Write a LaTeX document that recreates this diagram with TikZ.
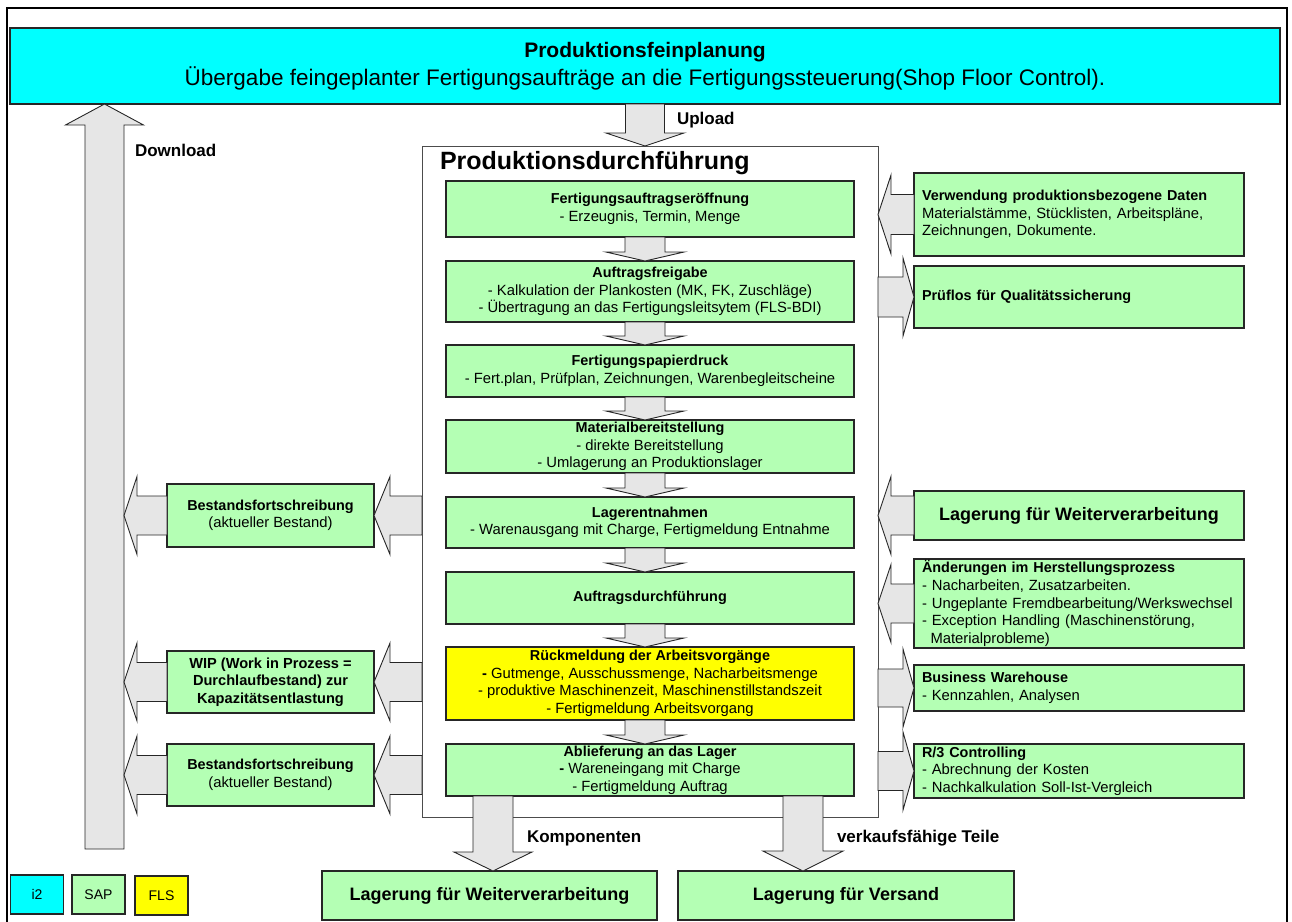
\documentclass[tikz,border=0pt]{standalone}
\usepackage{fontspec}
\setmainfont{Liberation Sans}
\usetikzlibrary{calc}

\definecolor{sapgreen}{RGB}{180,255,180}
\definecolor{arrowgray}{RGB}{230,230,230}
\definecolor{flsyellow}{RGB}{255,255,0}
\definecolor{itwocyan}{RGB}{0,255,255}

\newcommand{\bxfont}{\fontsize{14.8}{17.6}\selectfont}
\newcommand{\hd}[1]{{\fontsize{14.4}{17.6}\selectfont\bfseries #1}}

% block arrow: #1 start, #2 tip, #3 shaft half-width, #4 head half-width, #5 head length
\newcommand{\blockarrow}[5]{%
  \path (#1) coordinate (baS) (#2) coordinate (baT);
  \path ($(baT)!#5!(baS)$) coordinate (baH);
  \draw[blk] ($(baS)!#3!90:(baT)$) -- ($(baH)!#3!90:(baT)$) -- ($(baH)!#4!90:(baT)$)
    -- (baT) -- ($(baH)!#4!-90:(baT)$) -- ($(baH)!#3!-90:(baT)$) -- ($(baS)!#3!-90:(baT)$) -- cycle;
}

\begin{document}
\begin{tikzpicture}[x=1pt,y=-1pt,
  every node/.style={inner sep=0pt, outer sep=0pt},
  sz/.style 2 args={minimum width=#1pt, minimum height=#2pt},
  gbox/.style={draw=black!85, line width=1.2pt, fill=sapgreen, align=center, font=\bxfont},
  rbox/.style={gbox, align=left, text width=314pt, inner xsep=8pt},
  bigbox/.style={gbox, font=\fontsize{18}{22}\selectfont\bfseries},
  legend/.style={draw=black!85, line width=1.2pt, font=\fontsize{14}{17}\selectfont, sz={53}{39}},
  blk/.style={draw=black!85, line width=0.9pt, fill=arrowgray, line join=miter},
  lbl/.style={anchor=west, font=\fontsize{17}{20}\selectfont\bfseries},
]
\useasboundingbox (0,0) rectangle (1292,921);
\clip (0,0) rectangle (1292,921);

% outer frame
\draw[line width=2pt] (7,8) rectangle (1287,950);

% planning banner
\node[fill=itwocyan, draw=black!85, line width=1.2pt, sz={1270}{76}, align=center,
      font=\fontsize{21}{28}\selectfont] (plan) at (645,66)
  {{\bfseries Produktionsfeinplanung}\\{\fontsize{22.5}{28}\selectfont \"Ubergabe feingeplanter Fertigungsauftr\"age an die Fertigungssteuerung(Shop Floor Control).}};

% production execution frame
\node[draw=black!70, line width=1pt, fill=white, sz={456}{671}] (main) at (650,481.5) {};
\node[anchor=west, font=\fontsize{25}{30}\selectfont\bfseries] (maintitle) at (440,163) {Produktionsdurchf\"uhrung};

% process steps
\node[gbox, sz={408}{56}] (b1) at (650,209)
  {\hd{Fertigungsauftragser\"offnung}\\- Erzeugnis, Termin, Menge};
\node[gbox, sz={408}{61}] (b2) at (650,291.5)
  {\hd{Auftragsfreigabe}\\- Kalkulation der Plankosten (MK, FK, Zuschl\"age)\\- \"Ubertragung an das Fertigungsleitsytem (FLS-BDI)};
\node[gbox, sz={408}{52}] (b3) at (650,371)
  {\hd{Fertigungspapierdruck}\\- Fert.plan, Pr\"ufplan, Zeichnungen, Warenbegleitscheine};
\node[gbox, sz={408}{53}] (b4) at (650,446.5)
  {\hd{Materialbereitstellung}\\- direkte Bereitstellung\\- Umlagerung an Produktionslager};
\node[gbox, sz={408}{51}] (b5) at (650,522.5)
  {\hd{Lagerentnahmen}\\- Warenausgang mit Charge, Fertigmeldung Entnahme};
\node[gbox, sz={408}{52}] (b6) at (650,598)
  {\hd{Auftragsdurchf\"uhrung}};
\node[gbox, fill=flsyellow, sz={408}{73}] (b7) at (650,683.5)
  {\hd{R\"uckmeldung der Arbeitsvorg\"ange}\\\textbf{-} Gutmenge, Ausschussmenge, Nacharbeitsmenge\\- produktive Maschinenzeit, Maschinenstillstandszeit\\- Fertigmeldung Arbeitsvorgang};
\node[gbox, sz={408}{52}] (b8) at (650,770)
  {\hd{Ablieferung an das Lager}\\\textbf{-} Wareneingang mit Charge\\- Fertigmeldung Auftrag};

% stock updates (left)
\node[gbox, sz={207}{63}] (l1) at (270.5,515.5)
  {\hd{Bestandsfortschreibung}\\(aktueller Bestand)};
\node[gbox, sz={207}{62}, font=\fontsize{14.6}{17.6}\selectfont\bfseries] (l2) at (270.5,682)
  {WIP (Work in Prozess =\\Durchlaufbestand) zur\\Kapazit\"atsentlastung};
\node[gbox, sz={207}{62}] (l3) at (270.5,775)
  {\hd{Bestandsfortschreibung}\\(aktueller Bestand)};

% related functions (right)
\node[rbox, sz={330}{83}] (r1) at (1079,214.5)
  {\hd{Verwendung produktionsbezogene Daten}\\Materialst\"amme, St\"ucklisten, Arbeitspl\"ane,\\Zeichnungen, Dokumente.};
\node[rbox, sz={330}{62}] (r2) at (1079,297)
  {\hd{Pr\"uflos f\"ur Qualit\"atssicherung}};
\node[bigbox, sz={330}{49}] (r3) at (1079,515.5)
  {Lagerung f\"ur Weiterverarbeitung};
\node[rbox, sz={330}{89}] (r4) at (1079,603.5)
  {\hd{\"Anderungen im Herstellungsprozess}\\- Nacharbeiten, Zusatzarbeiten.\\\mbox{- Ungeplante Fremdbearbeitung/Werkswechsel}\\- Exception Handling (Maschinenst\"orung,\\\hspace*{8.5pt}Materialprobleme)};
\node[rbox, sz={330}{46}] (r5) at (1079,688)
  {\hd{Business Warehouse}\\- Kennzahlen, Analysen};
\node[rbox, sz={330}{54}] (r6) at (1079,771)
  {\hd{R/3 Controlling}\\- Abrechnung der Kosten\\- Nachkalkulation Soll-Ist-Vergleich};

% storage targets (bottom)
\node[bigbox, sz={335}{49}] (lw) at (489.5,895.5) {Lagerung f\"ur Weiterverarbeitung};
\node[bigbox, sz={336}{49}] (lv) at (846,895.5) {Lagerung f\"ur Versand};

% legend
\node[legend, fill=itwocyan] (lgi) at (37,894.5) {i2};
\node[legend, fill=sapgreen] (lgs) at (98.5,894.5) {SAP};
\node[legend, fill=flsyellow] (lgf) at (161.5,895.5) {FLS};

% arrow axes
\coordinate (axis) at (645,0);
\coordinate (dlfoot) at (104.5,849);
\coordinate (dlshaft) at (124,0);
\coordinate (kx) at (493,0);
\coordinate (vx) at (803,0);

% download / upload
\blockarrow{dlfoot}{plan.south -| dlfoot}{19.5pt}{39pt}{21pt}
\blockarrow{plan.south -| axis}{main.north -| axis}{19.5pt}{39pt}{13pt}

% flow between steps
\blockarrow{b1.south -| axis}{b2.north -| axis}{20pt}{39pt}{9pt}
\blockarrow{b2.south -| axis}{b3.north -| axis}{20pt}{39pt}{9pt}
\blockarrow{b3.south -| axis}{b4.north -| axis}{20pt}{39pt}{9pt}
\blockarrow{b4.south -| axis}{b5.north -| axis}{20pt}{39pt}{9pt}
\blockarrow{b5.south -| axis}{b6.north -| axis}{20pt}{39pt}{9pt}
\blockarrow{b6.south -| axis}{b7.north -| axis}{20pt}{39pt}{9pt}
\blockarrow{b7.south -| axis}{b8.north -| axis}{20pt}{39pt}{9pt}

% left side
\blockarrow{main.west |- l1.east}{l1.east}{19.5pt}{39pt}{16pt}
\blockarrow{l1.west}{dlshaft |- l1.west}{19.5pt}{39pt}{13pt}
\blockarrow{main.west |- l2.east}{l2.east}{19.5pt}{39pt}{16pt}
\blockarrow{l2.west}{dlshaft |- l2.west}{19.5pt}{39pt}{13pt}
\blockarrow{main.west |- l3.east}{l3.east}{19.5pt}{39pt}{16pt}
\blockarrow{l3.west}{dlshaft |- l3.west}{19.5pt}{39pt}{13pt}

% right side
\blockarrow{r1.west}{main.east |- r1.west}{20pt}{39.5pt}{13pt}
\blockarrow{main.east |- r2.west}{r2.west}{20pt}{39pt}{11pt}
\blockarrow{r3.west}{main.east |- r3.west}{19.5pt}{39pt}{13pt}
\blockarrow{r4.west}{main.east |- r4.west}{19.5pt}{39pt}{13pt}
\blockarrow{main.east |- r5.west}{r5.west}{19pt}{39pt}{11pt}
\blockarrow{main.east |- r6.west}{r6.west}{19.5pt}{39pt}{11pt}

% outputs
\blockarrow{b8.south -| kx}{lw.north -| kx}{20pt}{39pt}{19pt}
\blockarrow{b8.south -| vx}{lv.north -| vx}{20pt}{40pt}{20pt}

% labels
\node[lbl] (dltxt) at (135,150) {Download};
\node[lbl] (ultxt) at (677,120) {Upload};
\node[lbl] (kotxt) at (527,838) {Komponenten};
\node[lbl] (vktxt) at (837,838) {verkaufsf\"ahige Teile};
\end{tikzpicture}
\end{document}
